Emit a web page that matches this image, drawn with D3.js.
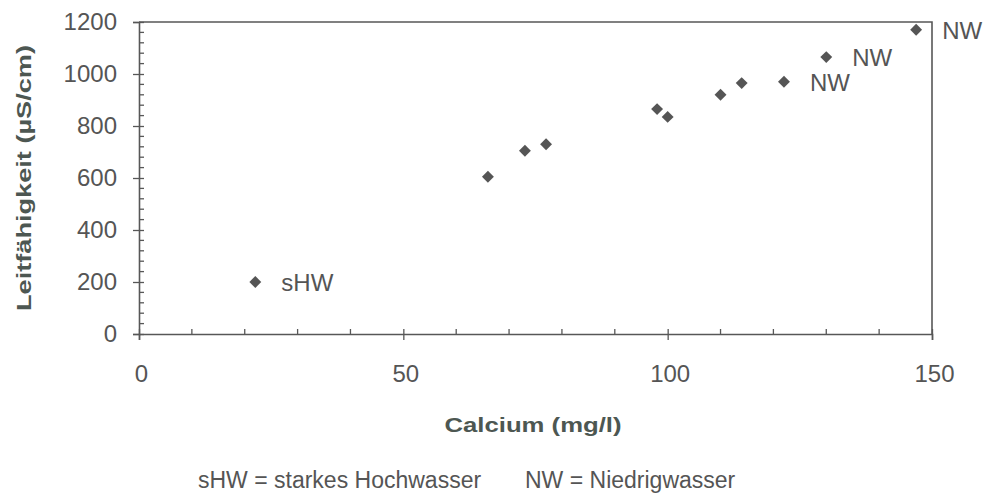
<!DOCTYPE html>
<html>
<head>
<meta charset="utf-8">
<script src="https://cdn.jsdelivr.net/npm/d3@7"></script>
<style>
  body { margin: 0; background: #fff; }
  text { font-family: "Liberation Sans", Arial, sans-serif; }
</style>
</head>
<body>
<script>
// data
const calcium = [22, 66, 73, 77, 98, 100, 110, 114, 122, 130, 147];
const leitf = [200, 605, 705, 730, 865, 835, 920, 965, 970, 1065, 1170];
const labels = ['sHW', '', '', '', '', '', '', '', 'NW', 'NW', 'NW'];
const xTicks = [0, 50, 100, 150];
const yTicks = [0, 200, 400, 600, 800, 1000, 1200];
const legendItems = ['sHW = starkes Hochwasser', 'NW = Niedrigwasser'];

// plot box
const mLeft = 139, mRight = 932, mTop = 22, mBottom = 334;
const ink = '#575757';

const svg = d3.select('body').append('svg')
  .attr('width', 986)
  .attr('height', 497);

const x = d3.scaleLinear().domain([0, 150]).range([mLeft, mRight]);
const y = d3.scaleLinear().domain([0, 1200]).range([mBottom, mTop]);

// frame top and right
svg.append('path')
  .attr('d', `M${mLeft},${mTop}H${mRight}V${mBottom}`)
  .attr('fill', 'none')
  .attr('stroke', ink)
  .attr('stroke-width', 1.6);

// minor ticks (inside)
const g = svg.append('g').attr('stroke', ink).attr('stroke-width', 1.3);
g.selectAll('.xminor')
  .data(d3.range(10, 150, 10).filter(v => v % 50 !== 0))
  .enter().append('line')
  .attr('x1', d => x(d)).attr('x2', d => x(d))
  .attr('y1', mBottom).attr('y2', mBottom - 5);
g.selectAll('.yminor')
  .data(d3.range(40, 1200, 40).filter(v => v % 200 !== 0))
  .enter().append('line')
  .attr('x1', mLeft).attr('x2', mLeft + 5)
  .attr('y1', d => y(d)).attr('y2', d => y(d));

// major axes, ticks crossing the axis line
const xAxis = svg.append('g')
  .attr('transform', `translate(0,${mBottom})`)
  .call(d3.axisBottom(x).tickValues(xTicks).tickSize(6).tickFormat(d3.format('d')));
const yAxis = svg.append('g')
  .attr('transform', `translate(${mLeft},0)`)
  .call(d3.axisLeft(y).tickValues(yTicks).tickSize(6).tickPadding(16).tickFormat(d3.format('d')));

[xAxis, yAxis].forEach(a => {
  a.select('.domain').attr('stroke', ink).attr('stroke-width', 1.6);
  a.selectAll('.tick line').attr('stroke', ink).attr('stroke-width', 1.3);
  a.selectAll('.tick text')
    .attr('fill', '#555')
    .style('font-size', '24px');
});
xAxis.selectAll('.tick line').attr('y1', -5);
xAxis.selectAll('.tick text').attr('y', 48).attr('dy', 0).attr('dx', 2);
yAxis.selectAll('.tick line').attr('x1', 5);

// axis titles
svg.append('text')
  .attr('x', 533).attr('y', 432)
  .attr('text-anchor', 'middle')
  .attr('fill', '#4d5752')
  .attr('textLength', 177)
  .attr('lengthAdjust', 'spacingAndGlyphs')
  .style('font-size', '21px')
  .style('font-weight', 'bold')
  .text('Calcium (mg/l)');

svg.append('text')
  .attr('transform', 'translate(31,178) rotate(-90)')
  .attr('text-anchor', 'middle')
  .attr('fill', '#4d5752')
  .attr('textLength', 266)
  .attr('lengthAdjust', 'spacingAndGlyphs')
  .style('font-size', '21px')
  .style('font-weight', 'bold')
  .text('Leitfähigkeit (µS/cm)');

// points
svg.selectAll('.pt')
  .data(calcium)
  .enter().append('path')
  .attr('d', d3.symbol(d3.symbolDiamond2, 90))
  .attr('transform', (d, i) => `translate(${x(d)},${y(leitf[i])})`)
  .attr('fill', '#555');

// point labels
svg.selectAll('.lbl')
  .data(calcium)
  .enter().append('text')
  .attr('x', d => x(d) + 26)
  .attr('y', (d, i) => y(leitf[i]) + 9)
  .attr('fill', '#555')
  .style('font-size', '24px')
  .text((d, i) => labels[i]);

// legend line
svg.selectAll('.leg')
  .data(legendItems)
  .enter().append('text')
  .attr('x', (d, i) => [198, 525][i])
  .attr('y', 488)
  .attr('fill', '#555')
  .style('font-size', '23px')
  .text(d => d);
</script>
</body>
</html>
